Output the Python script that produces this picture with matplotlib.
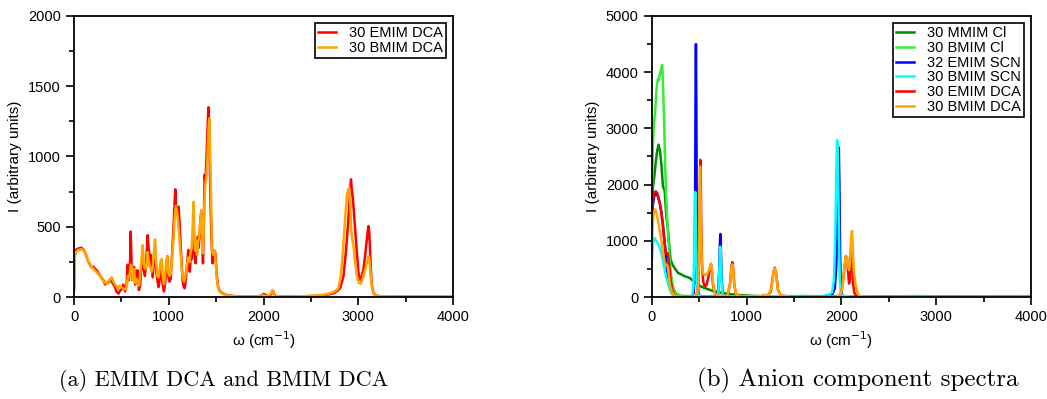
import numpy as np
import matplotlib
matplotlib.use('Agg')
import matplotlib.pyplot as plt
from matplotlib.ticker import MultipleLocator

plt.rcParams['font.family'] = ['Liberation Sans', 'DejaVu Sans']

# ---- panel (a): total spectra, (omega, intensity) ----
emim_dca_a = [
    (0, 60), (8, 300), (20, 335), (45, 345), (80, 350), (115, 322), (150, 255), (185, 210),
    (205, 215), (222, 200), (240, 190), (260, 168), (290, 135), (310, 120), (327, 90), (345, 100),
    (362, 100), (380, 125), (397, 110), (415, 90), (432, 70), (450, 35), (468, 25), (485, 45),
    (503, 55), (520, 88), (538, 40), (555, 90), (566, 230), (578, 120), (590, 200), (598, 466),
    (607, 250), (615, 120), (625, 190), (633, 215), (645, 90), (657, 150), (668, 190), (685, 50),
    (697, 80), (707, 180), (716, 230), (724, 265), (736, 200), (748, 150), (762, 250), (777, 440),
    (788, 340), (798, 270), (810, 300), (820, 220), (830, 140), (842, 260), (855, 330), (866, 200),
    (880, 120), (892, 70), (905, 130), (915, 210), (924, 190), (935, 90), (949, 40), (962, 100),
    (975, 230), (985, 290), (995, 150), (1008, 110), (1020, 130), (1033, 280), (1048, 470), (1060, 650),
    (1069, 766), (1076, 650), (1083, 610), (1092, 580), (1104, 643), (1114, 520), (1125, 380), (1135, 240),
    (1146, 120), (1157, 75), (1167, 62), (1178, 110), (1188, 190), (1197, 260), (1206, 335), (1214, 270),
    (1222, 180), (1232, 300), (1242, 270), (1252, 380), (1262, 420), (1272, 300), (1282, 240), (1290, 380),
    (1298, 320), (1307, 430), (1316, 350), (1325, 440), (1335, 560), (1343, 600), (1352, 420), (1361, 240),
    (1370, 540), (1378, 870), (1388, 820), (1398, 1000), (1408, 1200), (1418, 1350), (1426, 1200), (1434, 900),
    (1443, 600), (1453, 380), (1462, 240), (1470, 280), (1480, 330), (1490, 320), (1500, 230), (1510, 130),
    (1522, 70), (1540, 40), (1570, 25), (1620, 12), (1700, 6), (1850, 3), (1950, 4), (1985, 12),
    (2000, 22), (2015, 18), (2030, 10), (2050, 8), (2070, 12), (2090, 30), (2100, 45), (2110, 20),
    (2130, 6), (2200, 3), (2400, 4), (2550, 8), (2650, 14), (2738, 26), (2770, 40), (2808, 62),
    (2843, 145), (2871, 334), (2895, 550), (2910, 700), (2923, 837), (2932, 760), (2940, 720), (2947, 667),
    (2965, 500), (2983, 334), (3000, 190), (3011, 125), (3025, 120), (3040, 160), (3053, 192), (3070, 280),
    (3086, 382), (3098, 460), (3107, 505), (3115, 470), (3121, 380), (3130, 240), (3138, 121), (3150, 55),
    (3163, 26), (3185, 10), (3250, 4), (3500, 2), (4000, 2),
]

bmim_dca_a = [
    (0, 40), (8, 280), (20, 320), (45, 335), (80, 340), (115, 320), (150, 260), (185, 215),
    (210, 195), (235, 180), (260, 160), (290, 140), (310, 110), (330, 100), (350, 95), (370, 115),
    (397, 140), (415, 110), (440, 80), (460, 60), (480, 80), (503, 70), (520, 60), (538, 55),
    (555, 70), (570, 150), (585, 140), (598, 230), (610, 220), (620, 120), (633, 200), (645, 100),
    (660, 130), (672, 110), (685, 80), (697, 150), (710, 250), (724, 370), (736, 240), (748, 200),
    (762, 210), (777, 320), (790, 230), (805, 210), (820, 180), (832, 220), (845, 340), (855, 410),
    (866, 260), (880, 150), (893, 140), (905, 200), (915, 260), (924, 270), (935, 150), (949, 90),
    (962, 160), (975, 270), (985, 290), (995, 170), (1008, 150), (1020, 160), (1033, 250), (1048, 400),
    (1062, 560), (1075, 650), (1088, 600), (1100, 520), (1112, 420), (1125, 300), (1137, 200), (1150, 130),
    (1162, 110), (1175, 150), (1190, 220), (1205, 280), (1218, 250), (1230, 320), (1242, 350), (1252, 500),
    (1260, 678), (1268, 480), (1278, 330), (1288, 400), (1298, 300), (1307, 380), (1318, 420), (1328, 500),
    (1335, 560), (1343, 620), (1350, 450), (1358, 310), (1366, 400), (1375, 650), (1385, 800), (1398, 850),
    (1410, 1050), (1420, 1200), (1428, 1270), (1435, 1100), (1443, 800), (1452, 500), (1460, 320), (1470, 300),
    (1480, 330), (1490, 290), (1500, 200), (1510, 110), (1522, 60), (1540, 35), (1570, 22), (1620, 10),
    (1700, 5), (1850, 3), (1950, 4), (1990, 10), (2000, 14), (2015, 8), (2040, 6), (2060, 10),
    (2080, 30), (2093, 50), (2105, 25), (2120, 8), (2200, 3), (2400, 5), (2550, 10), (2650, 18),
    (2720, 30), (2760, 45), (2790, 62), (2815, 145), (2836, 310), (2860, 548), (2880, 720), (2895, 770),
    (2905, 775), (2915, 680), (2925, 480), (2935, 420), (2950, 360), (2965, 260), (2985, 150), (3005, 100),
    (3025, 95), (3050, 140), (3075, 200), (3095, 250), (3110, 290), (3120, 250), (3135, 120), (3150, 45),
    (3170, 15), (3200, 6), (3500, 3), (4000, 3),
]

# ---- panel (b): anion component spectra ----
mmim_cl = [
    (0, 1500), (10, 1950), (25, 2150), (40, 2400), (55, 2600), (70, 2710), (85, 2600), (100, 2350),
    (116, 1960), (134, 1900), (151, 1450), (169, 1190), (186, 850), (197, 658), (222, 560), (245, 500),
    (274, 430), (300, 410), (345, 370), (398, 340), (433, 290), (470, 240), (503, 200), (540, 170),
    (573, 150), (630, 115), (679, 95), (750, 70), (820, 53), (890, 40), (960, 30), (1050, 22),
    (1150, 15), (1300, 12), (1500, 10), (1650, 14), (1750, 10), (2200, 8), (2600, 10), (3000, 12),
    (4000, 10),
]

bmim_cl = [
    (0, 1900), (10, 2700), (21, 3100), (32, 3250), (46, 3650), (55, 3800), (63, 3880), (72, 3850),
    (80, 3950), (90, 4000), (100, 4080), (108, 4130), (118, 3700), (127, 3200), (137, 2500), (146, 1950),
    (158, 1500), (170, 1100), (186, 700), (200, 420), (215, 250), (235, 120), (260, 60), (295, 30),
    (350, 18), (500, 12), (1000, 8), (4000, 6),
]

emim_scn = [
    (0, 1300), (10, 1650), (25, 1800), (40, 1840), (60, 1800), (81, 1680), (100, 1500), (116, 1280),
    (135, 950), (151, 620), (170, 330), (190, 150), (210, 60), (240, 20), (300, 8), (380, 5),
    (420, 15), (440, 80), (450, 400), (455, 1500), (460, 3600), (464, 4500), (468, 3500), (473, 1300),
    (480, 300), (490, 60), (510, 15), (600, 8), (680, 20), (700, 120), (710, 500), (718, 1000),
    (722, 1120), (727, 900), (735, 350), (745, 80), (770, 15), (900, 8), (1200, 8), (1800, 10),
    (1900, 40), (1930, 150), (1945, 550), (1958, 1500), (1966, 2400), (1972, 2660), (1978, 2000), (1985, 800),
    (1993, 200), (2005, 40), (2030, 10), (2500, 5), (4000, 5),
]

bmim_scn = [
    (0, 650), (10, 950), (25, 1050), (45, 1000), (63, 950), (80, 880), (98, 780), (116, 640),
    (134, 480), (151, 340), (169, 240), (190, 120), (210, 60), (230, 25), (280, 8), (400, 8),
    (425, 30), (438, 200), (446, 800), (452, 1600), (457, 1870), (462, 1500), (468, 700), (476, 150),
    (490, 30), (520, 10), (680, 10), (700, 80), (710, 400), (716, 750), (721, 895), (726, 750),
    (734, 300), (745, 60), (770, 12), (1200, 10), (1600, 20), (1700, 15), (1850, 20), (1900, 80),
    (1920, 300), (1935, 1100), (1945, 2200), (1953, 2790), (1960, 2700), (1968, 1800), (1975, 900), (1982, 350),
    (1992, 80), (2010, 20), (2100, 10), (2600, 12), (2800, 18), (3000, 12), (3900, 15), (4000, 15),
]

emim_dca_b = [
    (0, 1300), (10, 1700), (25, 1850), (40, 1880), (55, 1850), (70, 1760), (85, 1650), (100, 1500),
    (116, 1250), (130, 1000), (145, 800), (158, 760), (168, 770), (180, 600), (195, 330), (210, 150),
    (230, 50), (260, 15), (350, 8), (440, 10), (470, 40), (490, 200), (500, 900), (506, 2000),
    (510, 2440), (515, 2100), (520, 1300), (528, 600), (540, 280), (556, 190), (575, 210), (595, 350),
    (612, 500), (622, 590), (632, 480), (645, 200), (665, 60), (700, 20), (760, 15), (800, 40),
    (825, 250), (840, 560), (848, 620), (856, 520), (870, 200), (890, 40), (950, 10), (1150, 10),
    (1220, 20), (1255, 100), (1280, 420), (1295, 520), (1310, 420), (1330, 130), (1360, 25), (1450, 8),
    (1800, 5), (1950, 8), (1990, 40), (2010, 180), (2030, 500), (2045, 720), (2058, 700), (2070, 450),
    (2080, 240), (2088, 300), (2095, 700), (2104, 900), (2112, 650), (2122, 250), (2135, 80), (2150, 30),
    (2200, 10), (2500, 5), (4000, 5),
]

bmim_dca_b = [
    (0, 1000), (10, 1350), (22, 1520), (35, 1560), (50, 1480), (63, 1370), (80, 1200), (98, 1010),
    (116, 800), (134, 620), (151, 570), (165, 560), (178, 380), (192, 200), (210, 90), (230, 40),
    (260, 15), (350, 8), (440, 10), (470, 40), (488, 200), (498, 900), (503, 1800), (507, 2320),
    (512, 1900), (518, 1200), (526, 660), (536, 450), (548, 400), (565, 390), (585, 420), (602, 480),
    (615, 560), (624, 590), (634, 480), (646, 220), (662, 70), (700, 20), (760, 15), (800, 40),
    (825, 240), (838, 500), (846, 580), (855, 500), (870, 200), (890, 40), (950, 10), (1150, 15),
    (1180, 40), (1200, 30), (1230, 40), (1260, 150), (1280, 420), (1293, 510), (1308, 440), (1328, 140),
    (1360, 25), (1450, 8), (1800, 5), (1950, 8), (1990, 40), (2010, 180), (2030, 500), (2045, 700),
    (2057, 720), (2068, 560), (2080, 480), (2090, 620), (2102, 1050), (2111, 1174), (2120, 850), (2130, 450),
    (2143, 290), (2155, 160), (2168, 85), (2185, 30), (2220, 10), (2500, 5), (4000, 5),
]

series_a = [(emim_dca_a, '30 EMIM DCA', '#ff0000'),
            (bmim_dca_a, '30 BMIM DCA', '#ffa500')]
series_b = [(mmim_cl, '30 MMIM Cl', '#008b00'),
            (bmim_cl, '30 BMIM Cl', '#33ee33'),
            (emim_scn, '32 EMIM SCN', '#0000ff'),
            (bmim_scn, '30 BMIM SCN', '#00ffff'),
            (emim_dca_b, '30 EMIM DCA', '#ff0000'),
            (bmim_dca_b, '30 BMIM DCA', '#ffa500')]

fig = plt.figure(figsize=(10.47, 3.99), dpi=100)
ax1 = fig.add_axes([0.0707, 0.2556, 0.362, 0.7044])
ax2 = fig.add_axes([0.6227, 0.2556, 0.362, 0.7044])


def draw(ax, series, ymax, ymajor):
    for data, label, color in series:
        w, inten = np.array(data, dtype=float).T
        ax.plot(w, inten, color=color, lw=1.8, label=label)
    ax.set_xlim(0, 4000)
    ax.set_ylim(0, ymax)
    ax.xaxis.set_major_locator(MultipleLocator(1000))
    ax.xaxis.set_minor_locator(MultipleLocator(500))
    ax.yaxis.set_major_locator(MultipleLocator(ymajor))
    ax.yaxis.set_minor_locator(MultipleLocator(ymajor / 2))
    ax.tick_params(which='major', direction='out', length=6, width=1.2, labelsize=10.5)
    ax.tick_params(which='minor', direction='out', length=3.5, width=1.2)
    for sp in ax.spines.values():
        sp.set_linewidth(1.3)
    ax.set_xlabel(r'ω (cm$^{-1}$)', fontsize=11)
    ax.set_ylabel('I (arbitrary units)', fontsize=11)
    leg = ax.legend(loc='upper right', fontsize=10.5, handlelength=1.2, labelspacing=0.05,
                    handletextpad=0.9, borderpad=0.2, fancybox=False, framealpha=1,
                    borderaxespad=0.5)
    leg.get_frame().set_edgecolor('black')
    leg.get_frame().set_linewidth(1.2)


draw(ax1, series_a, 2000, 500)
draw(ax2, series_b, 5000, 1000)

fig.text(0.214, 0.046, '(a) EMIM DCA and BMIM DCA', family='cmr10', fontsize=16,
         ha='center', va='center')
fig.text(0.819, 0.046, '(b) Anion component spectra', family='cmr10', fontsize=18,
         ha='center', va='center')

fig.savefig('out.png', dpi=100)
